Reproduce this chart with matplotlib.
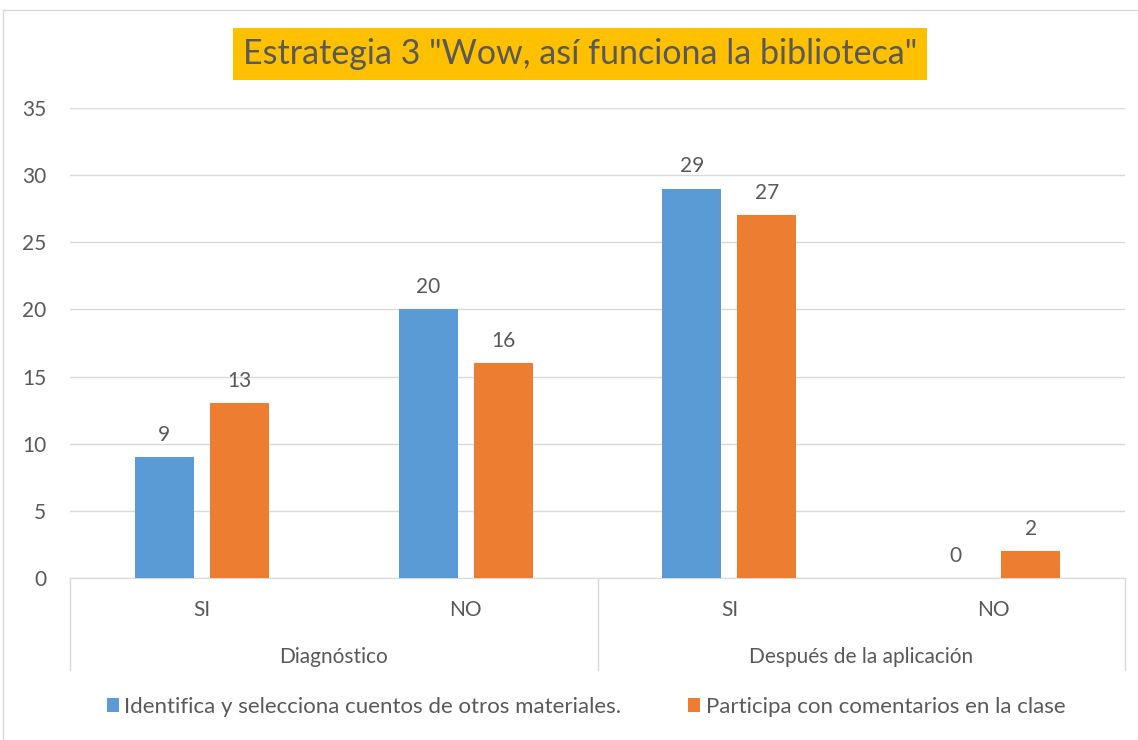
import matplotlib
matplotlib.use("Agg")
import matplotlib.pyplot as plt
from matplotlib.lines import Line2D
import numpy as np

categories = ["SI", "NO", "SI", "NO"]
groups = ["Diagnóstico", "Después de la aplicación"]
series_names = ["Identifica y selecciona cuentos de otros materiales.",
                "Participa con comentarios en la clase"]
serie1 = [9, 20, 29, 0]
serie2 = [13, 16, 27, 2]
yticks = [0, 5, 10, 15, 20, 25, 30, 35]
title = 'Estrategia 3 "Wow, así funciona la biblioteca"'

blue = "#5B9BD5"
orange = "#ED7D31"
txt = "#595959"
grid = "#D9D9D9"

plt.rcParams['font.family'] = ['Lato', 'DejaVu Sans']

fig = plt.figure(figsize=(11.38, 7.40), dpi=100)
ax = fig.add_axes([70/1138, 1-578/740, (1125-70)/1138, 470/740])

x = np.arange(len(categories))
w = 0.224
off = 0.142
b1 = ax.bar(x - off, serie1, w, color=blue, label=series_names[0], zorder=3)
b2 = ax.bar(x + off, serie2, w, color=orange, label=series_names[1], zorder=3)
for bars, vals in ((b1, serie1), (b2, serie2)):
    for r, v in zip(bars, vals):
        ax.annotate(str(v), (r.get_x() + r.get_width()/2, v), xytext=(0, 9),
                    textcoords="offset points", ha="center", va="bottom",
                    fontsize=15, color=txt)

ax.set_xlim(-0.5, len(categories) - 0.5)
ax.set_ylim(0, 35)
ax.set_yticks(yticks)
ax.set_yticklabels([str(t) for t in yticks], fontsize=15, color=txt)
ax.yaxis.grid(True, color=grid, linewidth=1, zorder=0)
ax.set_axisbelow(True)
ax.tick_params(axis='y', length=0, pad=17)
ax.tick_params(axis='x', length=0)
ax.set_xticks([])
for s in ["top", "right", "left"]:
    ax.spines[s].set_visible(False)
ax.spines["bottom"].set_color(grid)

# multi-level category axis
trans = ax.get_xaxis_transform()
for i, c in enumerate(categories):
    ax.text(i, -0.068, c, transform=trans, ha="center", va="center",
            fontsize=15, color=txt)
for g, name in enumerate(groups):
    ax.text(2*g + 0.5, -0.168, name, transform=trans, ha="center", va="center",
            fontsize=15, color=txt)
for xs in [-0.5, 1.5, 3.5]:
    ax.add_line(Line2D([xs, xs], [0, -0.196], transform=trans, color=grid,
                       linewidth=1, clip_on=False))

# title with background
fig.text(580/1138, 1-54/740, title, ha="center", va="center", fontsize=24.5,
         color=txt, bbox=dict(boxstyle="square,pad=0.3", facecolor="#FFC000",
                              edgecolor="none"))

# legend
fig.legend(handles=[b1, b2], labels=series_names, loc="center",
           bbox_to_anchor=(0.515, 1-707/740), ncol=2, frameon=False,
           fontsize=16, handlelength=0.55, handleheight=0.6,
           handletextpad=0.25, columnspacing=3.0, labelcolor=txt)

# chart border
fig.add_artist(Line2D([3/1138, 3/1138], [0, 1-10/740], transform=fig.transFigure,
                      color=grid, linewidth=1))
fig.add_artist(Line2D([3/1138, 1], [1-10/740, 1-10/740], transform=fig.transFigure,
                      color=grid, linewidth=1))

fig.savefig("out.png", dpi=100)
